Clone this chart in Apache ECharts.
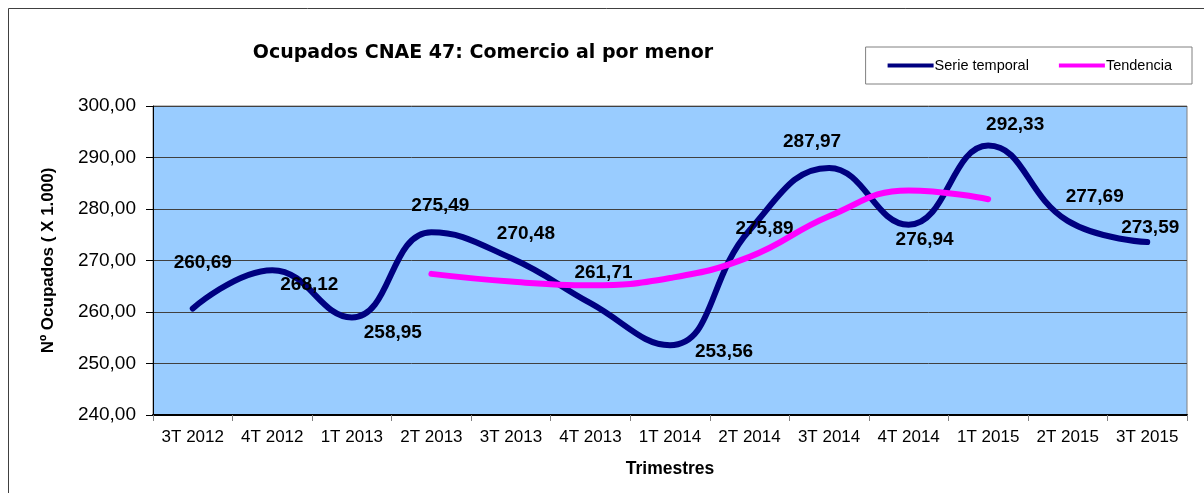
<!DOCTYPE html>
<html>
<head>
<meta charset="utf-8">
<script src="https://cdn.jsdelivr.net/npm/echarts@6/dist/echarts.min.js"></script>
<style>
    html, body { margin: 0; padding: 0; background: #fff; }
    #chart { width: 1204px; height: 493px; }
</style>
</head>
<body>
<div id="chart"></div>
<script>
    // trimestres
    const categories = ['3T 2012', '4T 2012', '1T 2013', '2T 2013', '3T 2013', '4T 2013', '1T 2014',
        '2T 2014', '3T 2014', '4T 2014', '1T 2015', '2T 2015', '3T 2015']
    const serieTemporal = [260.69, 268.12, 258.95, 275.49, 270.48, 261.71, 253.56,
        275.89, 287.97, 276.94, 292.33, 277.69, 273.59]
    // tendencia solo de 2T 2013 a 1T 2015
    const tendencia = [null, null, null, 267.4, 265.9, 265.2, 266.6,
        270.7, 278.6, 283.6, 281.9, null, null]
    const yTicks = [240, 250, 260, 270, 280, 290, 300]

    // posicion de las etiquetas (dx, dy) respecto al punto
    const labelOffsets = [
        [10, -46], [37, 15], [41, 15], [9, -26], [15, -24], [13, -30], [54, 7],
        [15, -1], [-17, -26], [16, 15], [27, -21], [27, -24], [3, -14]
    ]

    const fmt = v => v.toFixed(2).replace('.', ',')

    const myChart = echarts.init(document.getElementById('chart'))

    const option = {
        animation: false,
        textStyle: { fontFamily: 'Arial, "Liberation Sans", sans-serif' },
        graphic: [
            {
                type: 'rect',
                shape: { x: 8.5, y: 8.5, width: 1400, height: 800 },
                style: { fill: 'none', stroke: '#404040', lineWidth: 1 },
                z: -10
            }
        ],
        title: {
            text: 'Ocupados CNAE 47: Comercio al por menor',
            left: 478,
            top: 39,
            textAlign: 'center',
            textStyle: {
                fontFamily: '"DejaVu Sans", sans-serif',
                fontWeight: 'bold',
                fontSize: 19,
                color: '#000'
            }
        },
        legend: {
            right: 12,
            top: 47,
            padding: [11, 20, 11, 22],
            borderColor: '#808080',
            borderWidth: 1,
            itemGap: 30,
            itemWidth: 46,
            itemHeight: 4,
            icon: 'rect',
            textStyle: { fontSize: 14.5, color: '#000', padding: [0, 0, 0, -4] },
            data: ['Serie temporal', 'Tendencia']
        },
        grid: {
            left: 153,
            right: 17,
            top: 106,
            bottom: 78,
            show: true,
            backgroundColor: '#99CCFF',
            borderColor: '#808080',
            borderWidth: 1
        },
        xAxis: {
            type: 'category',
            data: categories,
            boundaryGap: true,
            name: 'Trimestres',
            nameLocation: 'middle',
            nameGap: 45,
            nameTextStyle: { fontWeight: 'bold', fontSize: 17.5, color: '#000' },
            axisLine: { show: true, lineStyle: { color: '#000', width: 2 } },
            axisTick: { show: true, alignWithLabel: false, interval: 0, length: 6, lineStyle: { color: '#808080' } },
            axisLabel: { color: '#000', fontSize: 17, margin: 14, interval: 0 },
            splitLine: { show: false }
        },
        yAxis: {
            type: 'value',
            min: yTicks[0],
            max: yTicks[yTicks.length - 1],
            interval: yTicks[1] - yTicks[0],
            name: 'Nº Ocupados ( X 1.000)',
            nameLocation: 'middle',
            nameRotate: 90,
            nameGap: 96,
            nameTextStyle: { fontWeight: 'bold', fontSize: 17, color: '#000' },
            axisLine: { show: true, lineStyle: { color: '#000', width: 1 } },
            axisTick: { show: true, length: 7, lineStyle: { color: '#000' } },
            axisLabel: { color: '#000', fontSize: 19, margin: 17, formatter: v => fmt(v) },
            splitLine: { show: true, lineStyle: { color: '#404040', width: 1 } }
        },
        series: [
            {
                name: 'Serie temporal',
                type: 'line',
                data: serieTemporal,
                smooth: 0.45,
                symbol: 'circle',
                symbolSize: 0.1,
                showSymbol: true,
                itemStyle: { color: '#000080' },
                color: '#000080',
                lineStyle: { color: '#000080', width: 6, cap: 'round' },
                label: {
                    show: true,
                    position: 'inside',
                    fontSize: 19,
                    fontWeight: 'bold',
                    color: '#000',
                    formatter: p => fmt(p.value)
                },
                // desplazar cada etiqueta como en el original
                labelLayout: p => ({
                    dx: labelOffsets[p.dataIndex][0],
                    dy: labelOffsets[p.dataIndex][1],
                    hideOverlap: false
                }),
                z: 3
            },
            {
                name: 'Tendencia',
                type: 'line',
                data: tendencia,
                smooth: 0.45,
                connectNulls: false,
                symbol: 'none',
                color: '#FF00FF',
                lineStyle: { color: '#FF00FF', width: 6, cap: 'round' },
                z: 4
            }
        ]
    }

    myChart.setOption(option)
</script>
</body>
</html>
